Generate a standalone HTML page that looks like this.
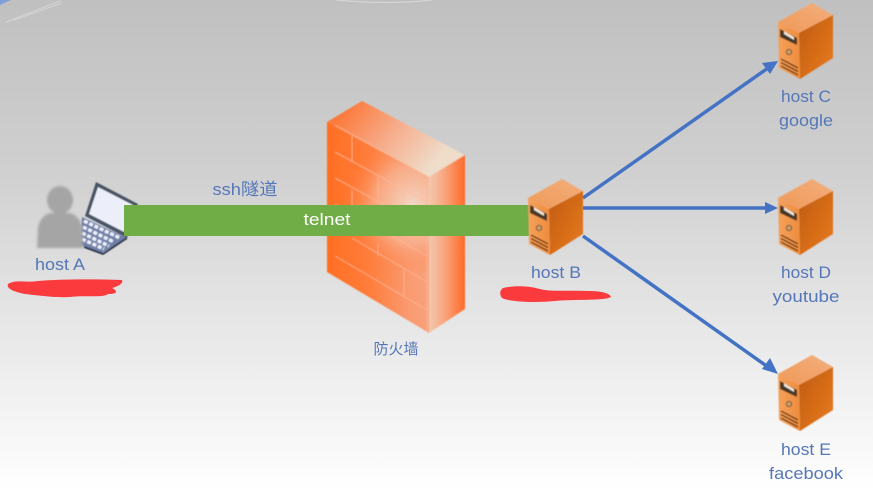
<!DOCTYPE html>
<html><head><meta charset="utf-8"><style>
html,body{margin:0;padding:0;background:#fff}
svg{display:block}
text{font-family:"Liberation Sans","Noto Sans CJK SC",sans-serif;fill:#5577b8;text-anchor:middle;font-size:16.5px}
</style></head><body>
<svg width="873" height="492" viewBox="0 0 873 492" xmlns="http://www.w3.org/2000/svg">
<defs>
<linearGradient id="bg" x1="0" y1="0" x2="0" y2="1"><stop offset="0" stop-color="#c0c0c0"/><stop offset=".35" stop-color="#d0d0d0"/><stop offset=".65" stop-color="#e6e6e6"/><stop offset="1" stop-color="#ffffff"/></linearGradient>
<linearGradient id="fwFront" gradientUnits="userSpaceOnUse" x1="327" y1="0" x2="429" y2="0"><stop offset="0" stop-color="#ff6f22"/><stop offset=".4" stop-color="#ff7c3a"/><stop offset=".8" stop-color="#fa9a70"/><stop offset="1" stop-color="#f8a27c"/></linearGradient>
<radialGradient id="fwGlow" gradientUnits="userSpaceOnUse" cx="412" cy="205" r="70"><stop offset="0" stop-color="#f2d8c6" stop-opacity="1"/><stop offset=".55" stop-color="#f8b697" stop-opacity=".65"/><stop offset="1" stop-color="#ff7b3a" stop-opacity="0"/></radialGradient>
<linearGradient id="fwTop" gradientUnits="userSpaceOnUse" x1="345" y1="110" x2="425" y2="175"><stop offset="0" stop-color="#fb7a3c"/><stop offset=".5" stop-color="#f7ad8c"/><stop offset="1" stop-color="#efdcc9"/></linearGradient>
<linearGradient id="fwSide" gradientUnits="userSpaceOnUse" x1="429" y1="0" x2="465" y2="0"><stop offset="0" stop-color="#f3c8ae"/><stop offset=".4" stop-color="#f8a882"/><stop offset="1" stop-color="#ff6a28"/></linearGradient>
<linearGradient id="svTop" x1="0" y1="1" x2="1" y2="0"><stop offset="0" stop-color="#f09a58"/><stop offset="1" stop-color="#f3ae7c"/></linearGradient>
<linearGradient id="svSide" x1="0" y1="0" x2="1" y2="1"><stop offset="0" stop-color="#bf5a0e"/><stop offset="1" stop-color="#ea7c20"/></linearGradient>
<linearGradient id="svFront" x1="0" y1="0" x2="1" y2="0"><stop offset="0" stop-color="#f5a15c"/><stop offset="1" stop-color="#ee8c3e"/></linearGradient>
<filter id="soft" x="-10%" y="-10%" width="120%" height="120%"><feGaussianBlur stdDeviation=".5"/></filter>
<filter id="soft2" x="-10%" y="-10%" width="120%" height="120%"><feGaussianBlur stdDeviation="1.2"/></filter>
<symbol id="srv" viewBox="0 0 56 78" width="56" height="78" overflow="visible">
  <g filter="url(#soft)">
  <polygon points="0,20 34,1 55,13 21,31" fill="url(#svTop)"/>
  <polygon points="21,31 55,13 55,56 22,77" fill="url(#svSide)"/>
  <polygon points="0,20 21,31 22,77 1,66" fill="url(#svFront)"/>
  <polygon points="2,27 19,36 19,43 2,35" fill="#4a3728"/>
  <polygon points="6,29 16,35 16,38 6,32" fill="#f2e6d8"/>
  <circle cx="11" cy="50" r="2.6" fill="#c9a070" stroke="#7a5228" stroke-width="1"/>
  <path d="M3,57 L20,66 M3,60.5 L20,69.5 M3,64 L20,73" stroke="#6b3a12" stroke-width="1.3" fill="none"/>
  </g>
</symbol>
</defs>
<rect width="873" height="492" fill="url(#bg)"/>
<polygon points="0,0 11,0 0,5" fill="#7f9fdc"/>
<path d="M6,22 L60,1 M14,20 L62,3" stroke="#d4d4d4" stroke-width="1" fill="none"/>
<path d="M336,0 Q390,5 432,0" stroke="#d8d8d8" stroke-width="1" fill="none"/>

<!-- firewall -->
<g filter="url(#soft)">
<polygon points="327,122 429,177 429,333 327,272" fill="url(#fwFront)"/>
<polygon points="327,122 429,177 429,333 327,272" fill="url(#fwGlow)"/>
<polygon points="327,122 362,101 465,155 429,177" fill="url(#fwTop)"/>
<polygon points="429,177 465,155 465,309 429,333" fill="url(#fwSide)"/>
<g stroke="#ffbb9b" stroke-width="1" fill="none" opacity=".75">
<path d="M335,125 L427,176 M335,152 L427,202 M335,178 L427,228 M335,204 L427,256 M335,256 L427,310 M352,238 L427,282"/>
<path d="M352,136 V162 M378,176 V198 M352,190 V216 M378,244 V256 M404,190 V216 M404,270 V296 M427,178 V332"/>
</g>
</g>

<!-- host A -->
<g filter="url(#soft)">
<polygon points="96,182 138,204 127,238 85,216" fill="#4a5566"/>
<polygon points="98,187 133,205 124,232 89,214" fill="#eceffa"/>
<polygon points="82,217 127,238 102,253 80,245" fill="#6f7fa8"/>
<path d="M84,221 L120,238 M83,227 L114,242 M82,233 L109,246 M82,239 L104,249" stroke="#eef1fa" stroke-width="3.4" fill="none" stroke-dasharray="4 1.8"/>
<path d="M84,247 L103,254 L127,238" stroke="#2c3446" stroke-width="1.8" fill="none"/>
</g>
<g filter="url(#soft2)" fill="#a5a5a5">
<ellipse cx="60" cy="200" rx="13" ry="14"/>
<path d="M37,248 L38,228 Q40,216 50,213 L70,213 Q80,216 82,228 L83,248 Z"/>
</g>
<text x="60" y="270" textLength="50" lengthAdjust="spacingAndGlyphs">host A</text>
<path d="M8,284 C16,279 25,283 38,281 C60,279 95,279 122,280 C124,284 116,287 112,288 C118,291 118,294 108,294 C104,298 84,295 70,297 C55,298 35,295 25,294 C15,292 6,289 8,284 Z" fill="#fb3a3e"/>

<!-- connectors -->
<rect x="124" y="205" width="405" height="31" fill="#70ad47"/>
<text x="327" y="225" textLength="47" lengthAdjust="spacingAndGlyphs" style="fill:#fff;font-size:17px">telnet</text>
<text x="245" y="195" textLength="65" lengthAdjust="spacingAndGlyphs" style="font-size:17px">ssh隧道</text>
<text x="396" y="354" style="font-size:15px">防火墙</text>

<g stroke="#4472c4" stroke-width="3.5" fill="none">
<path d="M583,198 L768,68"/>
<path d="M583,208 L767,208"/>
<path d="M583,236 L768,367"/>
</g>
<g fill="#4472c4">
<polygon points="778,61 770,74 762,63"/>
<polygon points="778,208 765,214 765,202"/>
<polygon points="778,374 762,369 770,358"/>
</g>

<!-- servers -->
<use href="#srv" x="528" y="178"/>
<use href="#srv" x="778" y="2"/>
<use href="#srv" x="778" y="178"/>
<use href="#srv" x="778" y="354"/>

<text x="556" y="278" textLength="50" lengthAdjust="spacingAndGlyphs">host B</text>
<path d="M503,288 C515,285 530,286 540,289 C550,292 570,290 590,291 C600,291 610,293 611,297 C605,301 575,299 555,301 C535,303 510,302 502,298 C499,294 500,290 503,288 Z" fill="#fb3a3e"/>
<text x="806" y="102" textLength="50" lengthAdjust="spacingAndGlyphs">host C</text>
<text x="806" y="126" textLength="54" lengthAdjust="spacingAndGlyphs">google</text>
<text x="806" y="278" textLength="50" lengthAdjust="spacingAndGlyphs">host D</text>
<text x="806" y="302" textLength="67" lengthAdjust="spacingAndGlyphs">youtube</text>
<text x="806" y="455" textLength="50" lengthAdjust="spacingAndGlyphs">host E</text>
<text x="806" y="479" textLength="74" lengthAdjust="spacingAndGlyphs">facebook</text>
</svg>
</body></html>
